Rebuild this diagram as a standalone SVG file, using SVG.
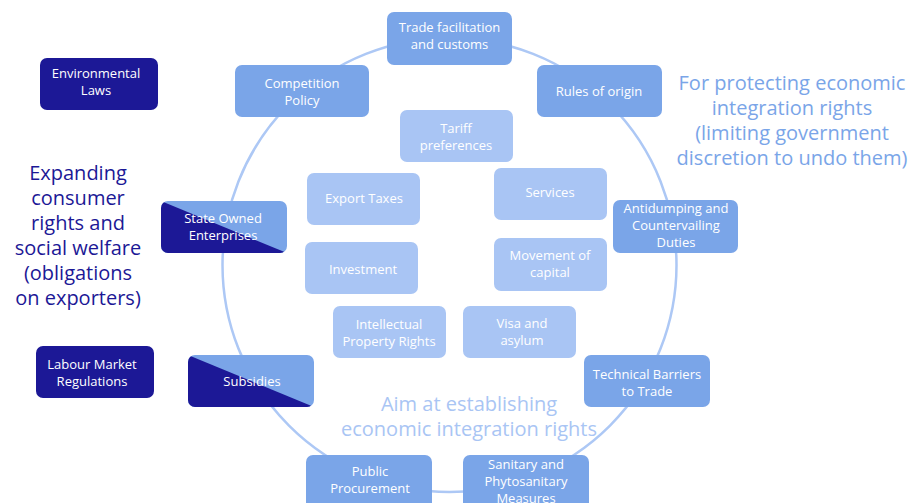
<svg xmlns="http://www.w3.org/2000/svg" width="913" height="503" viewBox="0 0 913 503">
<defs>
<style>
.m{fill:#7aa5e8}
.l{fill:#a9c5f4}
.n{fill:#1c1896}
.t{font-family:"Open Sans","Liberation Sans",sans-serif;font-size:13px;fill:#fff;text-anchor:middle}
.big{font-family:"Open Sans","Liberation Sans",sans-serif;font-size:20px;text-anchor:middle}
</style>
<clipPath id="c1"><rect x="161" y="201" width="126" height="52" rx="7"/></clipPath>
<clipPath id="c2"><rect x="188" y="355" width="126" height="52" rx="7"/></clipPath>
</defs>
<rect width="913" height="503" fill="#fff"/>
<g id="connectors">
<circle cx="449.5" cy="265" r="227" fill="none" stroke="#adc8f5" stroke-width="2.5"/>
</g>
<g id="trade"><rect class="m" x="387" y="12" width="125" height="53" rx="7"/><text class="t" x="449.5" y="31.5">Trade facilitation</text><text class="t" x="449.5" y="48.5">and customs</text></g>
<g id="rules"><rect class="m" x="537" y="65" width="125" height="52" rx="7"/><text class="t" x="599" y="95.5">Rules of origin</text></g>
<g id="competition"><rect class="m" x="235" y="65" width="134" height="52" rx="7"/><text class="t" x="302" y="87.5">Competition</text><text class="t" x="302" y="104.5">Policy</text></g>
<g id="environmental"><rect class="n" x="40" y="58" width="118" height="52" rx="7"/><text class="t" x="96" y="78">Environmental</text><text class="t" x="96" y="95">Laws</text></g>
<g id="tariff"><rect class="l" x="400" y="110" width="113" height="52" rx="7"/><text class="t" x="456" y="132.5">Tariff</text><text class="t" x="456" y="149.5">preferences</text></g>
<g id="export"><rect class="l" x="307" y="173" width="113" height="52" rx="7"/><text class="t" x="364" y="202.5">Export Taxes</text></g>
<g id="services"><rect class="l" x="494" y="168" width="113" height="52" rx="7"/><text class="t" x="550" y="196.5">Services</text></g>
<g id="soe"><g clip-path="url(#c1)"><rect class="m" x="161" y="201" width="126" height="52"/><polygon class="n" points="161,201 287,253 161,253"/></g><text class="t" x="223" y="222.5">State Owned</text><text class="t" x="223" y="239.5">Enterprises</text></g>
<g id="antidumping"><rect class="m" x="613" y="200" width="125" height="53" rx="7"/><text class="t" x="676" y="212.5">Antidumping and</text><text class="t" x="676" y="229.5">Countervailing</text><text class="t" x="676" y="246.5">Duties</text></g>
<g id="investment"><rect class="l" x="305" y="242" width="113" height="52" rx="7"/><text class="t" x="363" y="273.5">Investment</text></g>
<g id="capital"><rect class="l" x="494" y="238" width="113" height="53" rx="7"/><text class="t" x="550" y="260">Movement of</text><text class="t" x="550" y="277">capital</text></g>
<g id="ipr"><rect class="l" x="333" y="306" width="113" height="52" rx="7"/><text class="t" x="389" y="328.5">Intellectual</text><text class="t" x="389" y="345.5">Property Rights</text></g>
<g id="visa"><rect class="l" x="463" y="306" width="113" height="52" rx="7"/><text class="t" x="522" y="327.5">Visa and</text><text class="t" x="522" y="344.5">asylum</text></g>
<g id="labour"><rect class="n" x="36" y="346" width="118" height="52" rx="7"/><text class="t" x="92" y="368.5">Labour Market</text><text class="t" x="92" y="385.5">Regulations</text></g>
<g id="subsidies"><g clip-path="url(#c2)"><rect class="m" x="188" y="355" width="126" height="52"/><polygon class="n" points="188,355 314,407 188,407"/></g><text class="t" x="252" y="385.5">Subsidies</text></g>
<g id="tbt"><rect class="m" x="584" y="355" width="126" height="52" rx="7"/><text class="t" x="647" y="378.5">Technical Barriers</text><text class="t" x="647" y="395.5">to Trade</text></g>
<g id="procurement"><rect class="m" x="306" y="455" width="126" height="56" rx="7"/><text class="t" x="370" y="475.5">Public</text><text class="t" x="370" y="492.5">Procurement</text></g>
<g id="sps"><rect class="m" x="463" y="455" width="126" height="56" rx="7"/><text class="t" x="526" y="468.5">Sanitary and</text><text class="t" x="526" y="485.5">Phytosanitary</text><text class="t" x="526" y="502.5">Measures</text></g>
<g id="right-label" class="big" fill="#7aa5e8"><text x="792" y="90">For protecting economic</text><text x="792" y="115">integration rights</text><text x="792" y="140">(limiting government</text><text x="792" y="165">discretion to undo them)</text></g>
<g id="left-label" class="big" fill="#1c1896"><text x="78" y="180">Expanding</text><text x="78" y="205">consumer</text><text x="78" y="230">rights and</text><text x="78" y="255">social welfare</text><text x="78" y="280">(obligations</text><text x="78" y="305">on exporters)</text></g>
<g id="aim-label" class="big" fill="#a9c5f4"><text x="469" y="411">Aim at establishing</text><text x="469" y="436">economic integration rights</text></g>
</svg>
